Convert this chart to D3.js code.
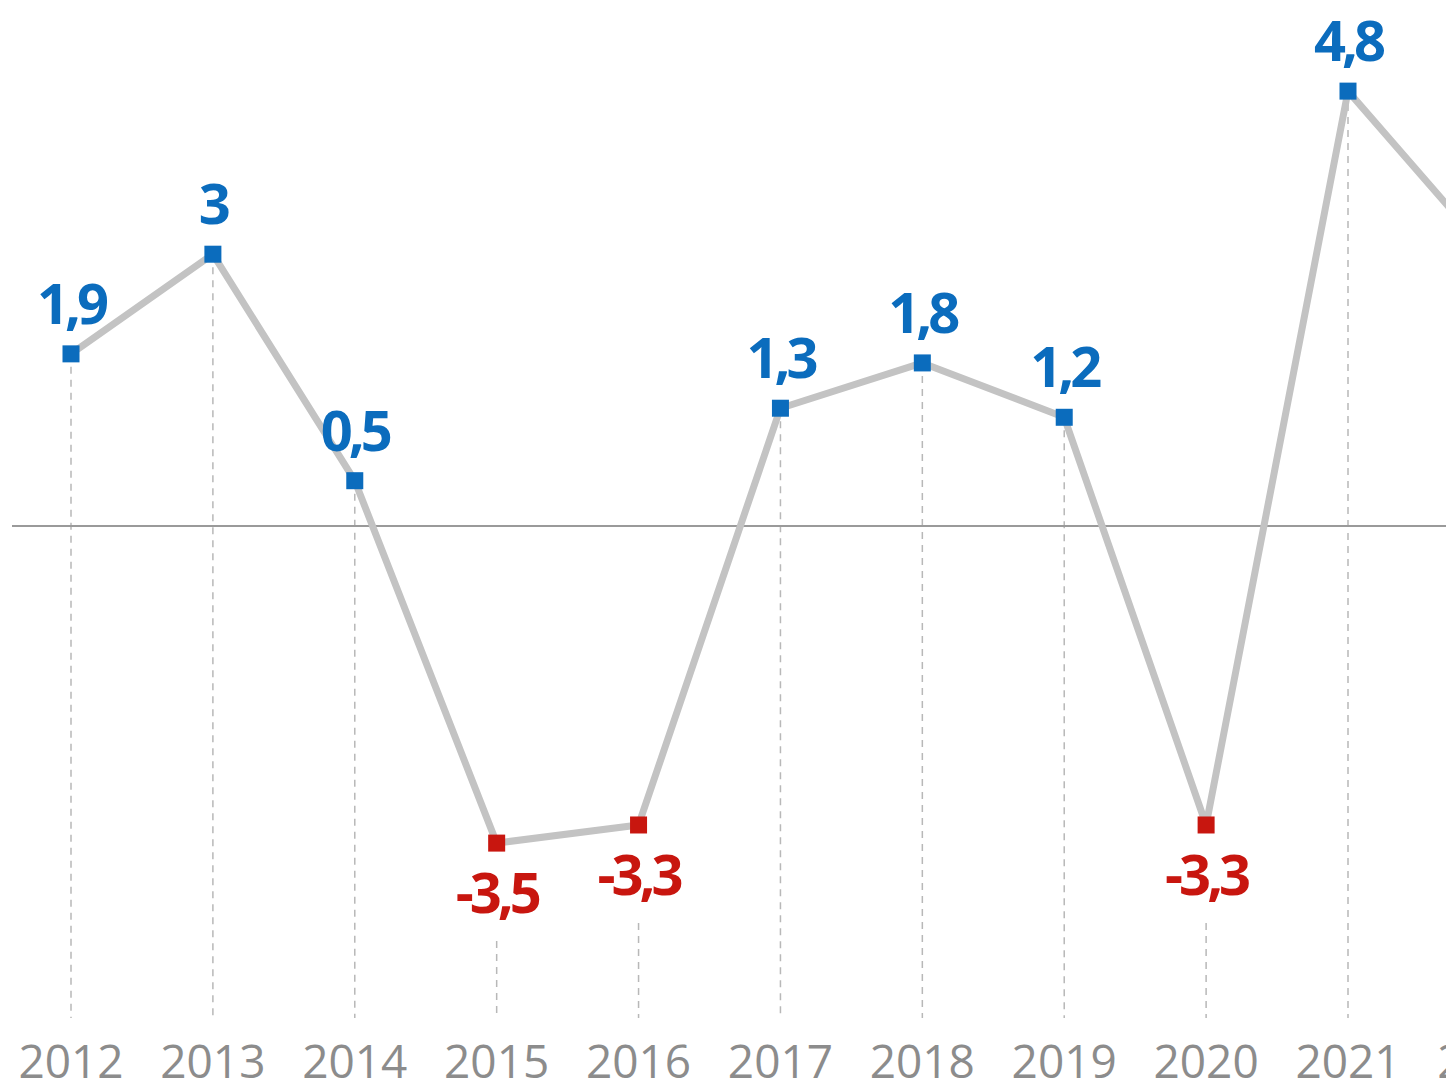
<!DOCTYPE html>
<html>
<head>
<meta charset="utf-8">
<script src="https://cdn.jsdelivr.net/npm/d3@7"></script>
<style>
  html, body { margin: 0; padding: 0; background: #fff; overflow: hidden; }
  text { font-family: "Open Sans", "Noto Sans", sans-serif; }
</style>
</head>
<body>
<svg id="chart" width="1446" height="1085"></svg>
<script>
// chart data
const years = [2012, 2013, 2014, 2015, 2016, 2017, 2018, 2019, 2020, 2021, 2022]
const values = [1.9, 3, 0.5, -3.5, -3.3, 1.3, 1.8, 1.2, -3.3, 4.8, 3.0]
const valueLabels = ['1,9', '3', '0,5', '-3,5', '-3,3', '1,3', '1,8', '1,2', '-3,3', '4,8', '3']

const data = years.map((y, i) => ({ year: y, value: values[i], label: valueLabels[i] }))

const W = 1446
const H = 1085
const blue = '#0b6cbd'
const red = '#c8160f'

const svg = d3.select('#chart')

const x = d3.scaleLinear()
    .domain([2012, 2021])
    .range([71, 1348])
const y = d3.scaleLinear()
    .domain([-4, 5])
    .range([888.4, 73])

const bottom = 1018

// dashed guides
svg.append('g')
  .selectAll('line')
  .data(data)
  .join('line')
    .attr('x1', d => x(d.year))
    .attr('x2', d => x(d.year))
    .attr('y1', d => d.value >= 0 ? y(d.value) : y(d.value) + 98)
    .attr('y2', bottom)
    .attr('stroke', '#b8b8b8')
    .attr('stroke-width', 1.5)
    .attr('stroke-dasharray', '7,6')

// zero line
svg.append('line')
    .attr('x1', 12)
    .attr('x2', W)
    .attr('y1', y(0))
    .attr('y2', y(0))
    .attr('stroke', '#9a9a9a')
    .attr('stroke-width', 2)

// main line
const line = d3.line()
    .x(d => x(d.year))
    .y(d => y(d.value))

svg.append('path')
    .datum(data)
    .attr('d', line)
    .attr('fill', 'none')
    .attr('stroke', '#c3c3c3')
    .attr('stroke-width', 7)
    .attr('stroke-linejoin', 'round')

// markers
const s = 17
svg.append('g')
  .selectAll('rect')
  .data(data)
  .join('rect')
    .attr('x', d => x(d.year) - s / 2)
    .attr('y', d => y(d.value) - s / 2)
    .attr('width', s)
    .attr('height', s)
    .attr('fill', d => d.value >= 0 ? blue : red)

// value labels
svg.append('g')
  .selectAll('text')
  .data(data)
  .join('text')
    .attr('x', d => x(d.year))
    .attr('y', d => d.value >= 0 ? y(d.value) - 30 : y(d.value) + 70)
    .attr('text-anchor', 'middle')
    .attr('font-size', 56)
    .attr('font-weight', 700)
    .attr('letter-spacing', '-4px')
    .attr('fill', d => d.value >= 0 ? blue : red)
    .text(d => d.label)

// year labels
svg.append('g')
  .selectAll('text')
  .data(years)
  .join('text')
    .attr('x', d => x(d))
    .attr('y', 1078)
    .attr('text-anchor', 'middle')
    .attr('font-size', 46)
    .attr('fill', '#8c8c8c')
    .text(d => d)
</script>
</body>
</html>
